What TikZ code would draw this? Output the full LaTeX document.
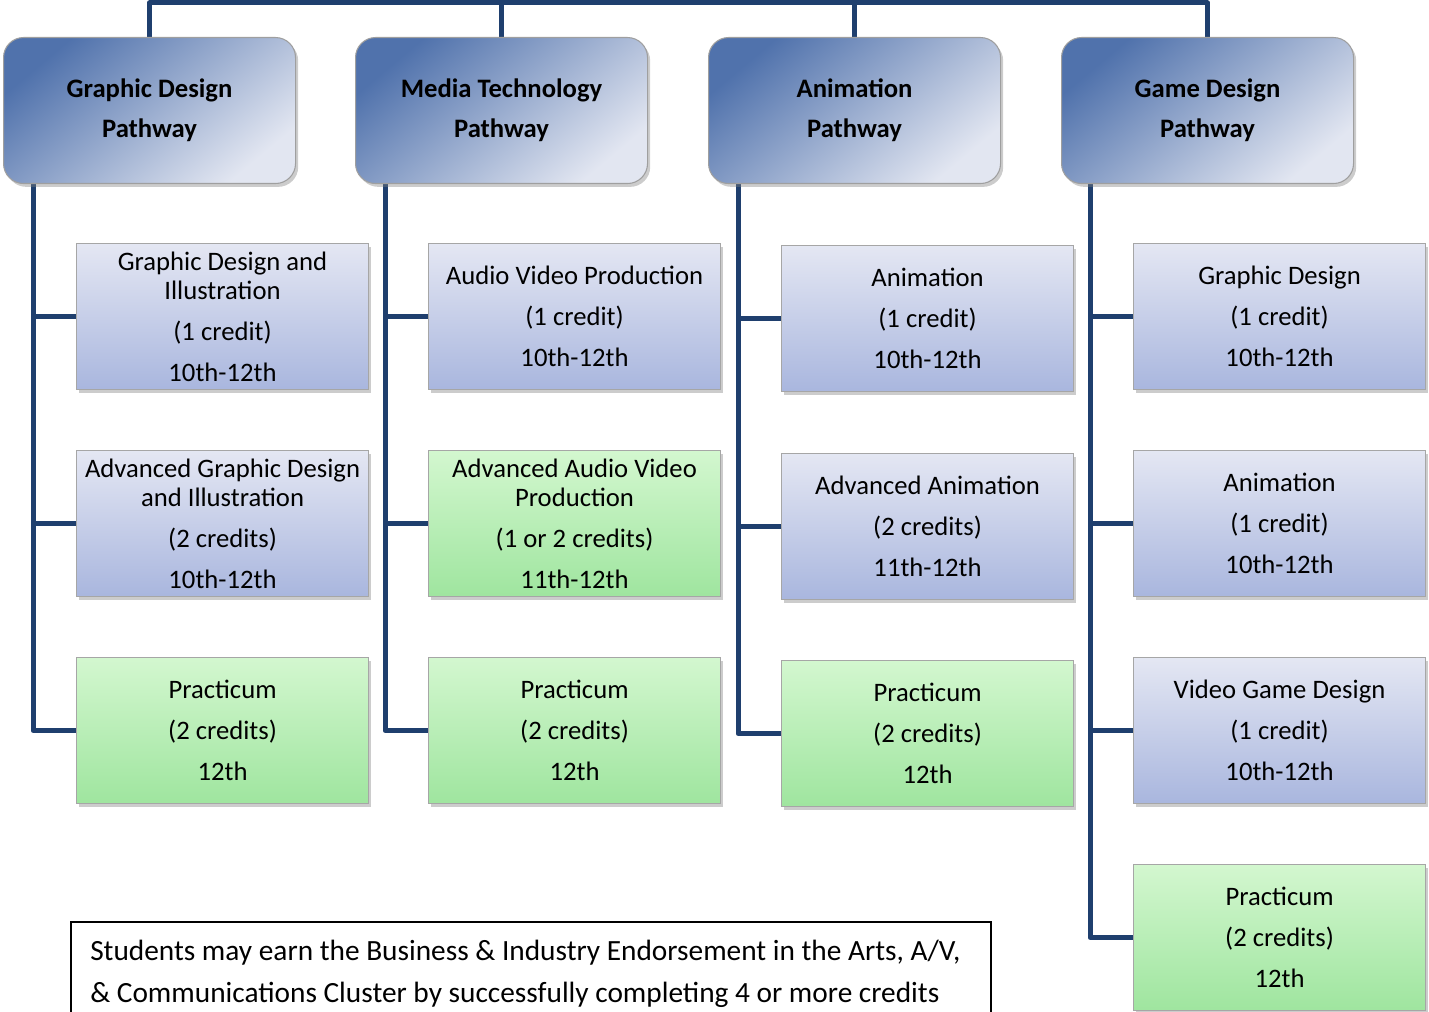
\documentclass[tikz,border=0pt]{standalone}
\usepackage{fontspec}
\setmainfont{Carlito}
\usetikzlibrary{shadows,backgrounds}
\definecolor{linkblue}{HTML}{1F3F6E}
\definecolor{hdark}{HTML}{5072AC}
\definecolor{hmid}{HTML}{BFC8E0}
\definecolor{hlight}{HTML}{E2E6F1}
\definecolor{btop}{HTML}{E4E7F3}
\definecolor{bbot}{HTML}{A9B6DE}
\definecolor{gtop}{HTML}{D3F7CF}
\definecolor{gbot}{HTML}{9FE59F}
\tikzset{
  link/.style={draw=linkblue, line width=3.75pt, line join=round},
  head/.style={anchor=north west, rounded corners=15pt, draw=gray!75, line width=0.8pt,
    minimum width=219pt, minimum height=109.5pt, inner sep=0pt, align=center,
    shading=axis, top color=hdark, middle color=hmid, bottom color=hlight, shading angle=40,
    font=\fontsize{20}{30}\selectfont\bfseries,
    drop shadow={shadow xshift=2pt, shadow yshift=-2.5pt, opacity=0.4}},
  course/.style={anchor=north west, draw=gray!70, line width=0.8pt,
    minimum width=219pt, minimum height=109.5pt, inner sep=0pt, align=center,
    font=\fontsize{20}{21.75}\selectfont,
    drop shadow={shadow xshift=2pt, shadow yshift=-2.5pt, opacity=0.4}},
  bluebox/.style={course, top color=btop, bottom color=bbot},
  greenbox/.style={course, top color=gtop, bottom color=gbot},
}
\newcommand{\gap}{\\[9pt]}
\begin{document}
\begin{tikzpicture}[x=0.75pt,y=-0.75pt]
\useasboundingbox (0,0) rectangle (1429,1012);
\clip (0,0) rectangle (1429,1012);

% pathway headers
\node[head] (gdh) at (3,37) {Graphic Design\\Pathway};
\node[head] (mth) at (355,37) {Media Technology\\Pathway};
\node[head] (anh) at (708,37) {Animation\\Pathway};
\node[head] (gmh) at (1061,37) {Game Design\\Pathway};

% graphic design courses
\node[bluebox] (gd1) at (76,243) {Graphic Design and\\Illustration\gap(1 credit)\gap10th-12th};
\node[bluebox] (gd2) at (76,450) {Advanced Graphic Design\\and Illustration\gap(2 credits)\gap10th-12th};
\node[greenbox] (gd3) at (76,657) {Practicum\gap(2 credits)\gap12th};

% media technology courses
\node[bluebox] (mt1) at (428,243) {Audio Video Production\gap(1 credit)\gap10th-12th};
\node[greenbox] (mt2) at (428,450) {Advanced Audio Video\\Production\gap(1 or 2 credits)\gap11th-12th};
\node[greenbox] (mt3) at (428,657) {Practicum\gap(2 credits)\gap12th};

% animation courses
\node[bluebox] (an1) at (781,245) {Animation\gap(1 credit)\gap10th-12th};
\node[bluebox] (an2) at (781,453) {Advanced Animation\gap(2 credits)\gap11th-12th};
\node[greenbox] (an3) at (781,660) {Practicum\gap(2 credits)\gap12th};

% game design courses
\node[bluebox] (gm1) at (1133,243) {Graphic Design\gap(1 credit)\gap10th-12th};
\node[bluebox] (gm2) at (1133,450) {Animation\gap(1 credit)\gap10th-12th};
\node[bluebox] (gm3) at (1133,657) {Video Game Design\gap(1 credit)\gap10th-12th};
\node[greenbox] (gm4) at (1133,864) {Practicum\gap(2 credits)\gap12th};

% endorsement note
\node[draw=black, line width=1.5pt, anchor=north west, minimum width=690pt,
      minimum height=90pt, inner sep=0pt] (note) at (70,921) {};
\node[anchor=north west, align=left, inner sep=0pt,
      font=\fontsize{22}{31.5}\selectfont] (notetext) at (90,940)
  {Students may earn the Business \& Industry Endorsement in the Arts, A/V,\\
   \& Communications Cluster by successfully completing 4 or more credits};

\begin{scope}[on background layer]
  % top bar joining the pathways
  \coordinate (bar) at (698,3);
  \coordinate (barup) at (698,-10);
  \draw[link] (gdh.north) |- (bar) -| (gmh.north);
  \draw[link] (mth.north) |- (bar);
  \draw[link] (anh.north) |- (bar);
  \draw[link] (bar) -- (barup);
  % trunks and branches
  \foreach \h/\a/\b/\c in {gdh/gd1/gd2/gd3, mth/mt1/mt2/mt3, anh/an1/an2/an3}{
    \coordinate (t-\h) at ([xshift=22.5pt]\h.south west);
    \draw[link] (t-\h) |- (\c.west);
    \draw[link] (t-\h |- \a.west) -- (\a.west);
    \draw[link] (t-\h |- \b.west) -- (\b.west);
  }
  \coordinate (t-gmh) at ([xshift=21.75pt]gmh.south west);
  \draw[link] (t-gmh) |- (gm4.west);
  \draw[link] (t-gmh |- gm1.west) -- (gm1.west);
  \draw[link] (t-gmh |- gm2.west) -- (gm2.west);
  \draw[link] (t-gmh |- gm3.west) -- (gm3.west);
\end{scope}
\end{tikzpicture}
\end{document}
